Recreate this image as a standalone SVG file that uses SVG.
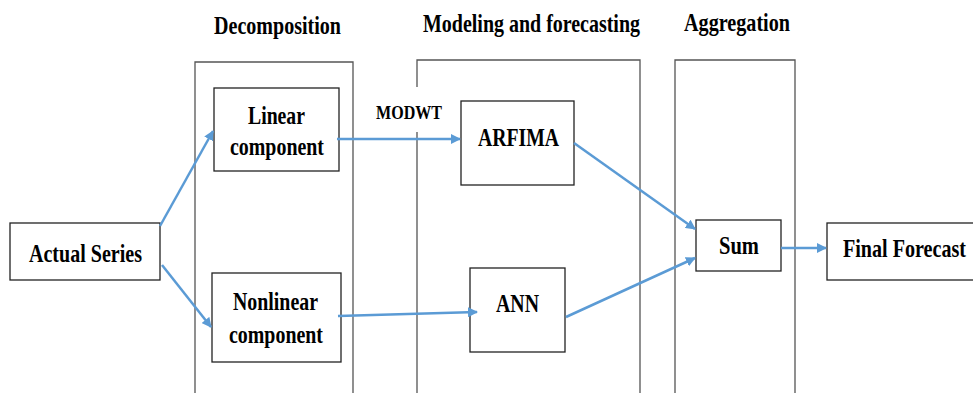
<svg xmlns="http://www.w3.org/2000/svg" width="973" height="393" viewBox="0 0 973 393">
<defs>
<marker id="ah" markerWidth="10" markerHeight="10" refX="9" refY="5" orient="auto" markerUnits="userSpaceOnUse" viewBox="0 0 10 10">
<path d="M0,0 L10,5 L0,10 z" fill="#5b9bd5"/>
</marker>
<style>
.panel{fill:none;stroke:#555;stroke-width:1.3}
.box{fill:#fff;stroke:#222;stroke-width:1.3}
.t{font-family:"Liberation Serif","Times New Roman",serif;font-weight:bold;fill:#000;text-anchor:middle;font-size:25px}
.c{fill:none;stroke:#5b9bd5;stroke-width:2.5;marker-end:url(#ah)}
</style>
</defs>
<rect width="973" height="393" fill="#fff"/>
<g id="panels">
<path class="panel" d="M195,393 V62 H353 V393"/>
<path class="panel" d="M417,87 V60 H640 V393 M417,132 V393"/>
<path class="panel" d="M675,393 V60 H795 V393"/>
<text class="t" x="277.5" y="34" textLength="127" lengthAdjust="spacingAndGlyphs">Decomposition</text>
<text class="t" x="531.5" y="32" textLength="217" lengthAdjust="spacingAndGlyphs">Modeling and forecasting</text>
<text class="t" x="737" y="31" textLength="106" lengthAdjust="spacingAndGlyphs">Aggregation</text>
</g>
<g id="actual"><rect class="box" x="10" y="223" width="150" height="57"/><text class="t" x="85.5" y="262" textLength="113" lengthAdjust="spacingAndGlyphs">Actual Series</text></g>
<g id="linear"><rect class="box" x="214" y="88" width="125" height="83"/><text class="t" x="276.5" y="124" textLength="57" lengthAdjust="spacingAndGlyphs">Linear</text><text class="t" x="277" y="155" textLength="94" lengthAdjust="spacingAndGlyphs">component</text></g>
<g id="nonlinear"><rect class="box" x="212" y="273" width="129" height="89"/><text class="t" x="275.5" y="310" textLength="85" lengthAdjust="spacingAndGlyphs">Nonlinear</text><text class="t" x="276" y="343" textLength="94" lengthAdjust="spacingAndGlyphs">component</text></g>
<g id="arfima"><rect class="box" x="461" y="101" width="113" height="84"/><text class="t" x="518.5" y="146" textLength="81" lengthAdjust="spacingAndGlyphs">ARFIMA</text></g>
<g id="ann"><rect class="box" x="470" y="268" width="95" height="84"/><text class="t" x="517.5" y="312" textLength="43" lengthAdjust="spacingAndGlyphs">ANN</text></g>
<g id="sum"><rect class="box" x="696" y="220" width="85" height="51"/><text class="t" x="739" y="254" textLength="40" lengthAdjust="spacingAndGlyphs">Sum</text></g>
<g id="final"><rect class="box" x="827" y="223" width="150" height="57"/><text class="t" x="904.5" y="257" textLength="123" lengthAdjust="spacingAndGlyphs">Final Forecast</text></g>
<g id="connectors">
<line class="c" x1="160" y1="226" x2="213" y2="131"/>
<line class="c" x1="162" y1="265" x2="211" y2="327"/>
<line class="c" x1="337" y1="139" x2="460" y2="139"/>
<line class="c" x1="338" y1="316" x2="477" y2="312"/>
<line class="c" x1="574" y1="143" x2="695" y2="229"/>
<line class="c" x1="566" y1="317" x2="695" y2="258"/>
<line class="c" x1="781" y1="248" x2="826" y2="248"/>
<text class="t" x="409" y="119" style="font-size:19px" textLength="66" lengthAdjust="spacingAndGlyphs">MODWT</text>
</g>
</svg>
